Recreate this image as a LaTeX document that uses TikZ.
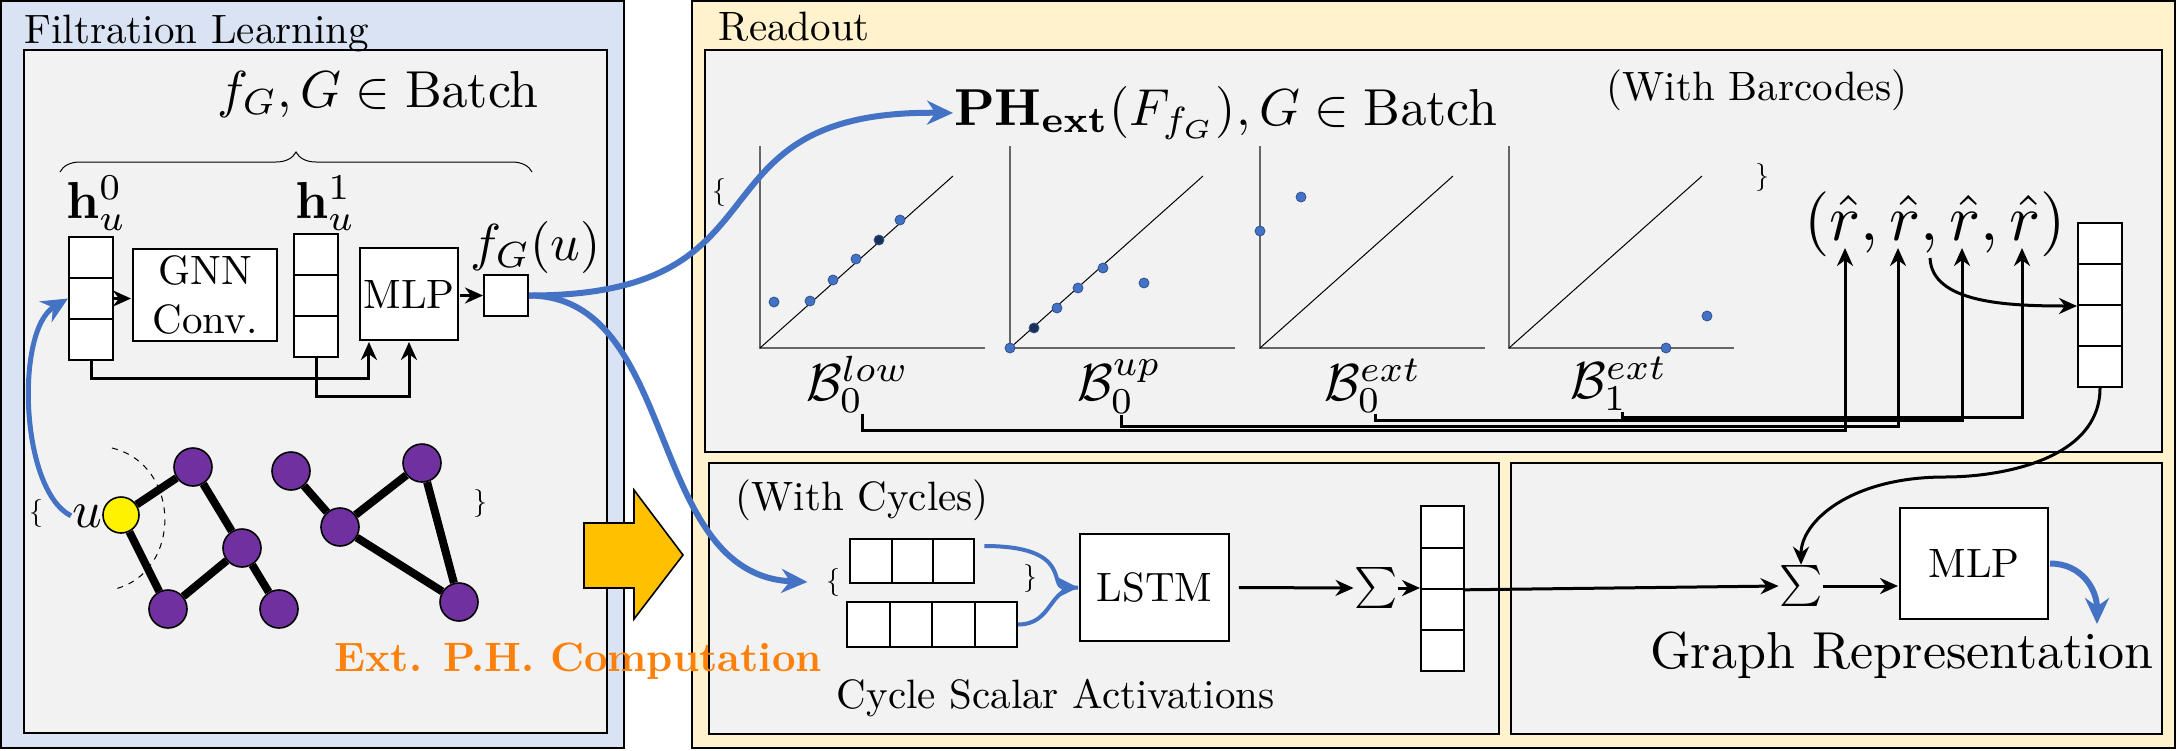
\documentclass[tikz,border=0pt]{standalone}
\usepackage{amsmath}
\usepackage{amssymb}
\usetikzlibrary{arrows.meta,positioning,calc,decorations.pathreplacing,shapes}
\definecolor{panelblue}{HTML}{DAE3F3}
\definecolor{panelyellow}{HTML}{FFF2CC}
\definecolor{panelgray}{HTML}{F2F2F2}
\definecolor{arrowblue}{HTML}{4472C4}
\definecolor{dotedge}{HTML}{2F528F}
\definecolor{nodepurple}{HTML}{7030A0}
\definecolor{blockorange}{HTML}{FFC000}
\definecolor{textorange}{RGB}{252,128,10}
\tikzset{
  panel/.style={draw=black,line width=1.2pt},
  outerblue/.style={panel,fill=panelblue},
  outeryellow/.style={panel,fill=panelyellow},
  innerpanel/.style={panel,fill=panelgray},
  lbl/.style={inner sep=0pt,anchor=base west,scale=2.05},
  biglbl/.style={inner sep=0pt,anchor=base west,scale=2.6},
  brc/.style={inner sep=0pt,scale=1.4},
  cell/.style={draw=black,fill=white,line width=1pt,minimum width=22pt,minimum height=20.5pt,inner sep=0pt},
  block/.style={draw=black,fill=white,line width=1pt,align=center,inner sep=0pt,scale=2.05},
  arr/.style={-{Stealth[length=9pt,width=8pt]},line width=1.5pt},
  bluearr/.style={-{Stealth[length=13pt,width=12pt]},line width=3pt,draw=arrowblue},
  bluethin/.style={line width=2pt,draw=arrowblue},
  gnode/.style={circle,draw=black,line width=0.8pt,fill=nodepurple,minimum size=19pt,inner sep=0pt},
  unode/.style={gnode,fill=yellow,minimum size=18pt},
  gedge/.style={line width=4pt},
  axis/.style={draw=black!60,line width=0.6pt},
  diag/.style={line width=0.5pt},
  bdot/.style={circle,fill=arrowblue,draw=dotedge,line width=0.4pt,inner sep=0pt,minimum size=5pt},
  ddot/.style={bdot,fill=dotedge!60!black},
  sumsym/.style={inner sep=0pt,scale=2.05}
}
\begin{document}
\begin{tikzpicture}[x=0.5pt,y=-0.5pt]
  \useasboundingbox (0,0) rectangle (2178,750);

  % filtration learning
  \draw[outerblue] (1,1) rectangle (624,748);
  \draw[innerpanel] (24,50) rectangle (607,733);
  \node[lbl] (ftitle) at (24,43) {Filtration Learning};
  \node[biglbl] (batch) at (216,107) {$f_G, G \in \mathrm{Batch}$};
  \draw[decorate,decoration={brace,amplitude=10pt},line width=0.5pt] (60,172) -- (532,172);

  \foreach \i in {0,1,2}
    \node[cell] (h0-\i) at (91,257.5+41*\i) {};
  \node[biglbl] (h0lab) at (65,218) {$\mathbf{h}_u^0$};
  \node[block,minimum width=35.1pt,minimum height=22.4pt] (gnn) at (205,295) {GNN\\Conv.};
  \foreach \i in {0,1,2}
    \node[cell] (h1-\i) at (316,254.5+41*\i) {};
  \node[biglbl] (h1lab) at (294,218) {$\mathbf{h}_u^1$};
  \node[block,minimum width=23.9pt,minimum height=22.4pt] (mlpa) at (409,294) {MLP};
  \node[cell] (fg) at (506,295.5) {};
  \node[biglbl] (fglab) at (469,260) {$f_G(u)$};

  \draw[arr] (h0-1.east) -- (h0-1.east -| gnn.west);
  \draw[arr] (mlpa.east |- fg.west) -- (fg.west);
  \draw[arr] (h0-2.south) -- ++(0,17) -| ([xshift=5.5pt]mlpa.south west);
  \draw[arr] (h1-2.south) -- ++(0,38) -| (mlpa.south);

  % input graphs
  \node[unode] (u) at (121,515) {};
  \node[gnode] (a1) at (193,467) {};
  \node[gnode] (a2) at (242,548) {};
  \node[gnode] (a3) at (168,609) {};
  \node[gnode] (a4) at (279,609) {};
  \node[gnode] (b1) at (291,471) {};
  \node[gnode] (b2) at (422,463) {};
  \node[gnode] (b3) at (340,527) {};
  \node[gnode] (b4) at (459,602) {};
  \path[gedge] (u) edge (a1)
                   edge (a3)
               (a1) edge (a2)
               (a3) edge (a2)
               (a2) edge (a4)
               (b1) edge (b3)
               (b3) edge (b2)
                    edge (b4)
               (b2) edge (b4);
  \draw[dashed,line width=0.5pt] (112,448) .. controls (182,465) and (182,572) .. (115,589);
  \node[biglbl] (ulab) at (71,527) {$u$};
  \node[brc] (gl) at (36,513) {\{};
  \node[brc] (gr) at (480,503) {\}};

  \draw[fill=blockorange,line width=0.8pt] (584,523) -- (634,523) -- (634,490) -- (683,555)
       -- (634,619) -- (634,588) -- (584,588) -- cycle;

  % readout
  \draw[outeryellow] (692,1) rectangle (2175,748);
  \node[lbl] (rtitle) at (718,40) {Readout};
  \draw[innerpanel] (705,50) rectangle (2162,452);
  \draw[innerpanel] (709,463) rectangle (1499,734);
  \draw[innerpanel] (1511,463) rectangle (2162,734);

  \node[biglbl] (ph) at (953,125) {$\mathbf{PH}_{\mathbf{ext}}(F_{f_G}), G \in \mathrm{Batch}$};
  \node[lbl] (wbar) at (1606,100) {(With Barcodes)};
  \node[brc] (bl) at (719,192) {\{};
  \node[brc] (br) at (1762,177) {\}};

  \foreach \x in {760,1010,1260,1509}{
    \draw[axis] (\x,146) -- (\x,348) -- (\x+225,348);
    \draw[diag] (\x,348) -- (\x+193,176);
  }
  \foreach \p [count=\k] in {(774,302),(810,301),(833,280),(856,259),(900,220),(1010,348),(1057,308),
      (1078,288),(1103,268),(1144,283),(1260,231),(1301,197),(1707,316),(1666,348)}
    \node[bdot] (dot\k) at \p {};
  \foreach \p [count=\k] in {(879,240),(1034,328)}
    \node[ddot] (dark\k) at \p {};

  \node[biglbl] (blow) at (805,400) {$\mathcal{B}_0^{low}$};
  \node[biglbl] (bup) at (1076,400) {$\mathcal{B}_0^{up}$};
  \node[biglbl] (bext0) at (1323,400) {$\mathcal{B}_0^{ext}$};
  \node[biglbl] (bext1) at (1569,398) {$\mathcal{B}_1^{ext}$};

  \node[inner sep=0pt,anchor=base west,scale=3.25] (rt) at (1803,240) {$(\hat r, \hat r, \hat r, \hat r)$};
  \coordinate (r1) at ([xshift=21pt,yshift=-4pt]rt.base west);
  \coordinate (r2) at ([xshift=47.5pt,yshift=-4pt]rt.base west);
  \coordinate (r3) at ([xshift=79.5pt,yshift=-4pt]rt.base west);
  \coordinate (r4) at ([xshift=109.5pt,yshift=-4pt]rt.base west);
  \coordinate (rc) at ([xshift=63.5pt,yshift=-9pt]rt.base west);

  \draw[arr] ([xshift=28.5pt]blow.south west) -- ++(0,17) -| (r1);
  \draw[arr] ([xshift=22.5pt]bup.south west) -- ++(0,12) -| (r2);
  \draw[arr] ([xshift=26pt]bext0.south west) -- ++(0,7) -| (r3);
  \draw[arr] ([xshift=26.5pt]bext1.south west) -- ++(0,6) -| (r4);

  \foreach \i in {0,...,3}
    \node[cell] (vr-\i) at (2100,243.5+41*\i) {};
  \draw[arr] (rc) .. controls +(2,45) and +(-70,0) .. (vr-1.south west);

  % cycles
  \node[lbl] (wcyc) at (735,510) {(With Cycles)};
  \node[brc] (cl) at (833,582) {\{};
  \foreach \i in {0,1,2}
    \node[cell,minimum width=20.7pt,minimum height=22pt] (ca-\i) at (871+41.3*\i,561) {};
  \foreach \i in {0,...,3}
    \node[cell,minimum width=21.25pt,minimum height=22.5pt] (cb-\i) at (868.25+42.5*\i,624.5) {};
  \node[brc] (cr) at (1030,578) {\}};
  \node[block,minimum width=36.3pt,minimum height=26.1pt] (lstm) at (1154.5,587.5) {LSTM};
  \draw[bluethin] (cb-3.east) .. controls +(35,0) and +(-30,0) .. (lstm.west);
  \draw[bluethin,-{Stealth[length=11pt,width=11pt]}] ([xshift=4.5pt,yshift=7.5pt]ca-2.east)
       .. controls +(90,0) and +(-30,0) .. (lstm.west);
  \node[lbl] (csa) at (836,708) {Cycle Scalar Activations};

  \node[sumsym] (sum1) at (1376,588) {$\sum$};
  \draw[arr] ([xshift=4pt]lstm.east) -- (sum1.west);
  \foreach \i in {0,...,3}
    \node[cell,minimum width=21.5pt,minimum height=20.6pt] (vc-\i) at (1442.5,527+41.2*\i) {};
  \draw[arr] (sum1.east) -- (sum1.east -| vc-1.south west);

  % graph representation
  \node[sumsym] (sum2) at (1801,586) {$\sum$};
  \node[block,minimum width=36.1pt,minimum height=27.1pt] (mlpb) at (1974,563.5) {MLP};
  \draw[arr] (vc-1.south east) -- (sum2.west);
  \draw[arr] (sum2.east) -- (sum2.east -| mlpb.west);
  \draw[arr] (vr-3.south) .. controls +(0,72) and +(55,0) .. (1945,477)
       .. controls +(-95,0) and +(0,-43) .. (sum2.north);
  \coordinate (gout) at (2097,624);
  \draw[bluearr] (mlpb.east) .. controls +(32,0) and +(0,-34) .. (gout);
  \node[biglbl] (grep) at (1649,668) {Graph Representation};

  \node[lbl,font=\bfseries,text=textorange] (phcomp) at (334,671) {Ext. P.H. Computation};

  % blue links
  \draw[bluearr,line width=2.5pt] (ulab.west) .. controls (20,490) and (15,330) .. (h0-1.west);
  \draw[bluearr] (fg.east) .. controls (800,296) and (680,110) .. (ph.west);
  \draw[bluearr] (fg.east) .. controls (680,296) and (645,575) .. ([xshift=-9pt]cl.west);

\end{tikzpicture}
\end{document}
